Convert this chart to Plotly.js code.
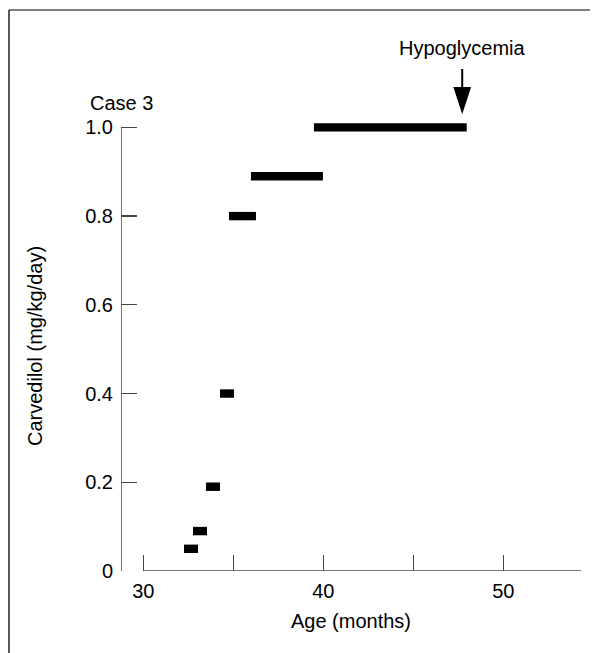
<!DOCTYPE html>
<html>
<head>
<meta charset="utf-8">
<script src="https://cdn.plot.ly/plotly-3.0.1.min.js"></script>
<style>
  html, body { margin: 0; padding: 0; background: #fff; }
  #chart { width: 597px; height: 653px; }
</style>
</head>
<body>
<div id="chart"></div>
<script>
// Dose periods (age in months) and carvedilol dose (mg/kg/day)
const startAge = [32.26, 32.76, 33.48, 34.26, 34.76, 35.98, 39.48];
const endAge   = [33.04, 33.54, 34.26, 35.04, 36.26, 39.98, 47.97];
const dose     = [0.05, 0.09, 0.19, 0.40, 0.80, 0.89, 1.00];

const xTickVals = [30, 35, 40, 45, 50];
const xTickText = ['30', '', '40', '', '50'];
const yTickVals = [0, 0.2, 0.4, 0.6, 0.8, 1.0];
const yTickText = ['0', '0.2', '0.4', '0.6', '0.8', '1.0'];

const eventAge = 47.72;
const eventLabel = 'Hypoglycemia';
const caseLabel = 'Case 3';
const xTitle = 'Age (months)';
const yTitle = 'Carvedilol (mg/kg/day)';

const xRange = [28.76, 54.32];
const yRange = [0, 1.1];

const FONT = 'Liberation Sans, Arial, Helvetica, sans-serif';
const FS = 20;
const AXC = '#444';

const duration = startAge.map((s, i) => endAge[i] - s);

const trace = {
  type: 'bar',
  orientation: 'h',
  y: dose,
  base: startAge,
  x: duration,
  width: 0.019,
  marker: { color: '#000', line: { width: 0 } },
  hoverinfo: 'skip',
  showlegend: false
};

const layout = {
  width: 597,
  height: 653,
  margin: { l: 121, r: 16, t: 83, b: 82 },
  paper_bgcolor: '#fff',
  plot_bgcolor: '#fff',
  font: { family: FONT, size: FS, color: '#000' },
  showlegend: false,
  xaxis: {
    range: xRange,
    showgrid: false, zeroline: false, showline: false,
    ticks: 'inside', ticklen: 16, tickwidth: 1.3, tickcolor: AXC,
    tickvals: xTickVals, ticktext: xTickText,
    ticklabelstandoff: 6,
    tickfont: { family: FONT, size: FS, color: '#000' },
    title: { text: xTitle, font: { family: FONT, size: FS, color: '#000' }, standoff: 12 }
  },
  yaxis: {
    range: yRange,
    showgrid: false, zeroline: false, showline: false,
    ticks: 'inside', ticklen: 16, tickwidth: 1.3, tickcolor: AXC,
    tickvals: yTickVals, ticktext: yTickText,
    ticklabelstandoff: 7,
    tickfont: { family: FONT, size: FS, color: '#000' }
  },
  shapes: [
    // y axis line (0 to 1.0)
    { type: 'line', xref: 'x', yref: 'y', x0: xRange[0], x1: xRange[0], y0: yTickVals[0], y1: yTickVals[yTickVals.length - 1],
      line: { color: AXC, width: 1.5 } },
    // x axis line starting at first tick
    { type: 'line', xref: 'x', yref: 'y', x0: xTickVals[0], x1: xRange[1], y0: 0, y1: 0,
      line: { color: AXC, width: 1.5 } },
    // frame: top line (gray) and left line (black)
    { type: 'line', xref: 'paper', yref: 'paper', x0: -0.2435, x1: 1.0196, y0: 1.1496, y1: 1.1496,
      line: { color: '#808080', width: 2 } },
    { type: 'line', xref: 'paper', yref: 'paper', x0: -0.2435, x1: -0.2435, y0: 1.1496, y1: -0.2,
      line: { color: '#222', width: 1.5 } },
    // event arrow (pixel-sized, anchored at event age just above the top bar)
    { type: 'path', xref: 'x', yref: 'paper', xsizemode: 'pixel', ysizemode: 'pixel',
      xanchor: eventAge, yanchor: 0.9426,
      path: 'M0,20 L0,42 M-7.5,23 L7.5,23 L0,0 Z',
      fillcolor: '#000', line: { color: '#000', width: 2 } }
  ],
  annotations: [
    { text: eventLabel, xref: 'x', yref: 'paper', x: eventAge, y: 1.0717, showarrow: false,
      xanchor: 'center', yanchor: 'middle', font: { family: FONT, size: FS, color: '#000' } },
    { text: caseLabel, xref: 'paper', yref: 'paper', x: -0.0717, y: 0.959, showarrow: false,
      xanchor: 'left', yanchor: 'middle', font: { family: FONT, size: FS, color: '#000' } },
    // y-axis title, centred on the drawn 0–1.0 axis line
    { text: yTitle, xref: 'paper', yref: 'paper', x: -0.187, y: 0.461, textangle: -90, showarrow: false,
      xanchor: 'center', yanchor: 'middle', font: { family: FONT, size: FS, color: '#000' } }
  ]
};

Plotly.newPlot('chart', [trace], layout, { displayModeBar: false, staticPlot: true });
</script>
</body>
</html>
